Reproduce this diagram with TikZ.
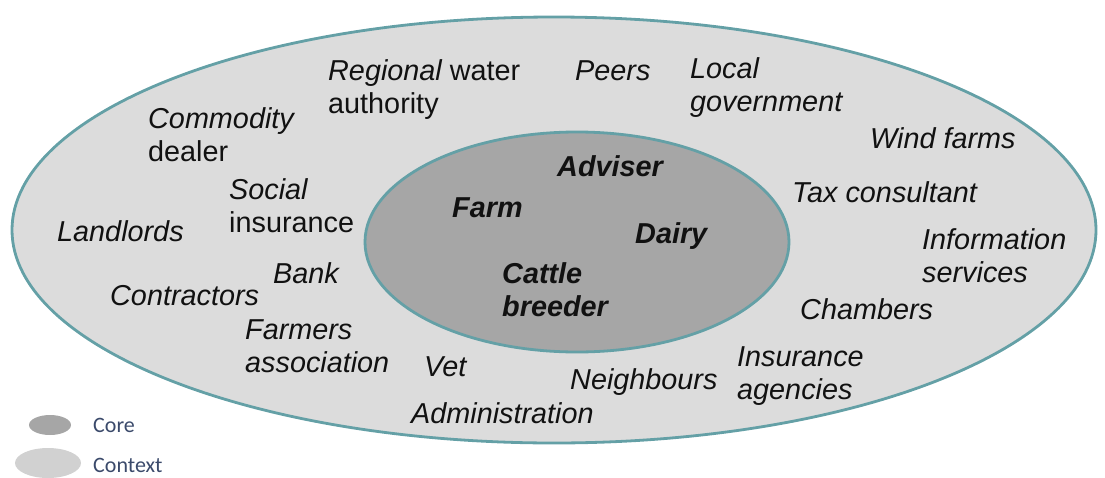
\documentclass[tikz,border=0pt]{standalone}
\usepackage{fontspec}
\setmainfont{Liberation Sans}
\newfontfamily\legendfont{Carlito}
\definecolor{outerfill}{HTML}{DCDCDC}
\definecolor{innerfill}{HTML}{A6A6A6}
\definecolor{rim}{HTML}{64A0A6}
\definecolor{legtext}{HTML}{3B4A6B}
\definecolor{txt}{HTML}{111111}
\begin{document}
\begin{tikzpicture}[x=1pt,y=-1pt,
  lbl/.style={inner sep=0pt, align=left, text=txt,
    font=\fontsize{28.8}{33}\selectfont\itshape,
    execute at begin node=\rule{0pt}{21pt}},
  corelbl/.style={lbl, font=\fontsize{28.8}{33}\selectfont\bfseries\itshape},
  leg/.style={inner sep=0pt, anchor=west, text=legtext, font=\legendfont\fontsize{22}{24}\selectfont}]
\useasboundingbox (0,0) rectangle (1105,477);
% ellipses
\draw[fill=outerfill, draw=rim, line width=2.8pt] (554,230) ellipse [x radius=542, y radius=213];
\draw[fill=innerfill, draw=rim, line width=2.8pt] (577,242) ellipse [x radius=212, y radius=110];
% context labels
\node[lbl, anchor=north west] (rwa) at (328,59) {Regional \upshape water\\\upshape authority};
\node[lbl, anchor=base west] (peers) at (575,80) {Peers};
\node[lbl, anchor=north west] (lgov) at (690,57) {Local\\government};
\node[lbl, anchor=north west] (comm) at (148,107) {Commodity\\\upshape dealer};
\node[lbl, anchor=base west] (wind) at (870,148) {Wind farms};
\node[lbl, anchor=north west] (social) at (229,178) {Social\\\upshape insurance};
\node[lbl, anchor=base west] (tax) at (792,202) {Tax consultant};
\node[lbl, anchor=base west] (land) at (57,241) {Landlords};
\node[lbl, anchor=north west] (info) at (922,228) {Information\\services};
\node[lbl, anchor=base west] (bank) at (273,283) {Bank};
\node[lbl, anchor=base west] (contr) at (110,305) {Contractors};
\node[lbl, anchor=base west] (chamb) at (800,319) {Chambers};
\node[lbl, anchor=north west] (farmers) at (245,319) {Farmers\\association};
\node[lbl, anchor=base west] (vet) at (424,376) {Vet};
\node[lbl, anchor=base west] (neigh) at (570,389) {Neighbours};
\node[lbl, anchor=north west] (insur) at (737,346) {Insurance\\agencies};
\node[lbl, anchor=base west] (admin) at (411,423) {Administration};
% core labels
\node[corelbl, anchor=base west] (adviser) at (557,176) {Adviser};
\node[corelbl, anchor=base west] (farm) at (452,217) {Farm};
\node[corelbl, anchor=base west] (dairy) at (635,243) {Dairy};
\node[corelbl, anchor=north west] (cattle) at (502,262) {Cattle\\breeder};
% legend
\fill[innerfill] (50,425) ellipse [x radius=21, y radius=10];
\fill[outerfill!95!black] (48,463) ellipse [x radius=33, y radius=15];
\node[leg] (lcore) at (93,425) {Core};
\node[leg] (lctx) at (93,465) {Context};
\end{tikzpicture}
\end{document}
